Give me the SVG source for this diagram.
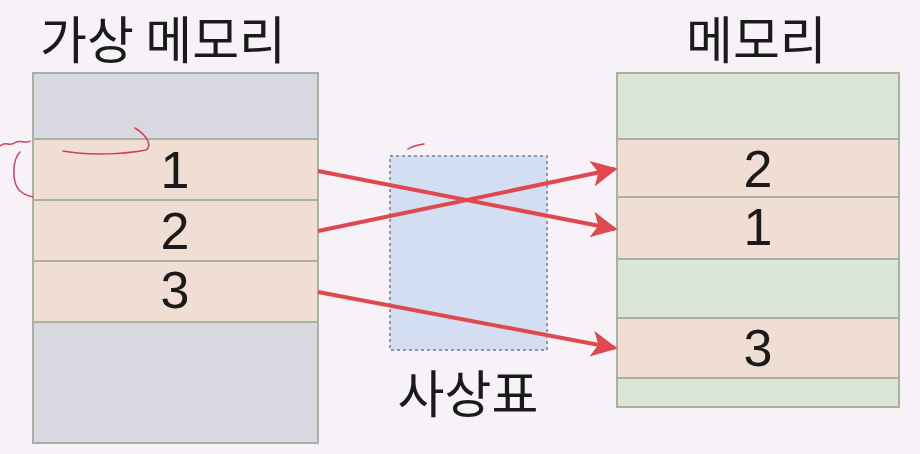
<svg xmlns="http://www.w3.org/2000/svg" width="920" height="454" viewBox="0 0 920 454">
<style>
.title{font-family:"Noto Sans CJK KR","Noto Sans",sans-serif;font-size:51px;fill:#1a1a1a;}
.num{font-family:"Liberation Sans","Noto Sans",sans-serif;font-size:52px;fill:#1a1a1a;text-anchor:middle;}
.gray{fill:#d8d8e0;stroke:#a9b2a2;stroke-width:2;}
.peach{fill:#f0ddd4;stroke:#a9b2a2;stroke-width:2;}
.green{fill:#dce6d6;stroke:#a9b2a2;stroke-width:2;}
.arrow{stroke:#e04850;stroke-width:4;fill:none;marker-end:url(#ah);}
.scrib{stroke:#d0405a;stroke-width:1.5;fill:none;stroke-linecap:round;}
</style>
<defs>
<marker id="ah" viewBox="0 0 10 10" refX="9" refY="5" markerWidth="7" markerHeight="6.5" orient="auto" markerUnits="strokeWidth">
<path d="M0,0 L10,5 L0,10 L2.5,5 Z" fill="#e04850"/>
</marker>
</defs>
<rect width="920" height="454" fill="#f6f2f7"/>
<g id="virtual-memory">
<text class="title" x="40" y="59">가상 메모리</text>
<rect class="gray" x="33" y="73" width="285" height="66"/>
<rect class="peach" x="33" y="139" width="285" height="61"/>
<rect class="peach" x="33" y="200" width="285" height="61"/>
<rect class="peach" x="33" y="261" width="285" height="61"/>
<rect class="gray" x="33" y="322" width="285" height="121"/>
<text class="num" x="175" y="188">1</text>
<text class="num" x="175" y="249">2</text>
<text class="num" x="175" y="308">3</text>
</g>
<g id="mapping-table">
<rect x="390" y="156" width="157" height="194" fill="#d4def2" stroke="#8c98b0" stroke-width="2" stroke-dasharray="3,3"/>
<text class="title" x="468" y="413" text-anchor="middle">사상표</text>
</g>
<g id="memory">
<text class="title" x="686" y="59">메모리</text>
<rect class="green" x="617" y="73" width="282" height="66"/>
<rect class="peach" x="617" y="139" width="282" height="58"/>
<rect class="peach" x="617" y="197" width="282" height="62"/>
<rect class="green" x="617" y="259" width="282" height="59"/>
<rect class="peach" x="617" y="318" width="282" height="60"/>
<rect class="green" x="617" y="378" width="282" height="29"/>
<text class="num" x="758" y="187">2</text>
<text class="num" x="758" y="245">1</text>
<text class="num" x="758" y="366">3</text>
</g>
<g id="connectors">
<line class="arrow" x1="318" y1="171" x2="615" y2="229"/>
<line class="arrow" x1="318" y1="231" x2="615" y2="169"/>
<line class="arrow" x1="318" y1="292" x2="615" y2="348"/>
</g>
<g id="annotations">
<path class="scrib" d="M63,151 C90,156 125,154 146,150 C152,146 148,136 135,128"/>
<path class="scrib" d="M0,146 C6,140 10,148 16,142 C20,140 26,144 30,141"/>
<path class="scrib" stroke="#6a5a60" d="M20,152 C12,160 12,182 19,190 C24,195 28,196 33,197"/>
<path class="scrib" d="M408,149 C412,146 418,145 424,144"/>
</g>
</svg>
